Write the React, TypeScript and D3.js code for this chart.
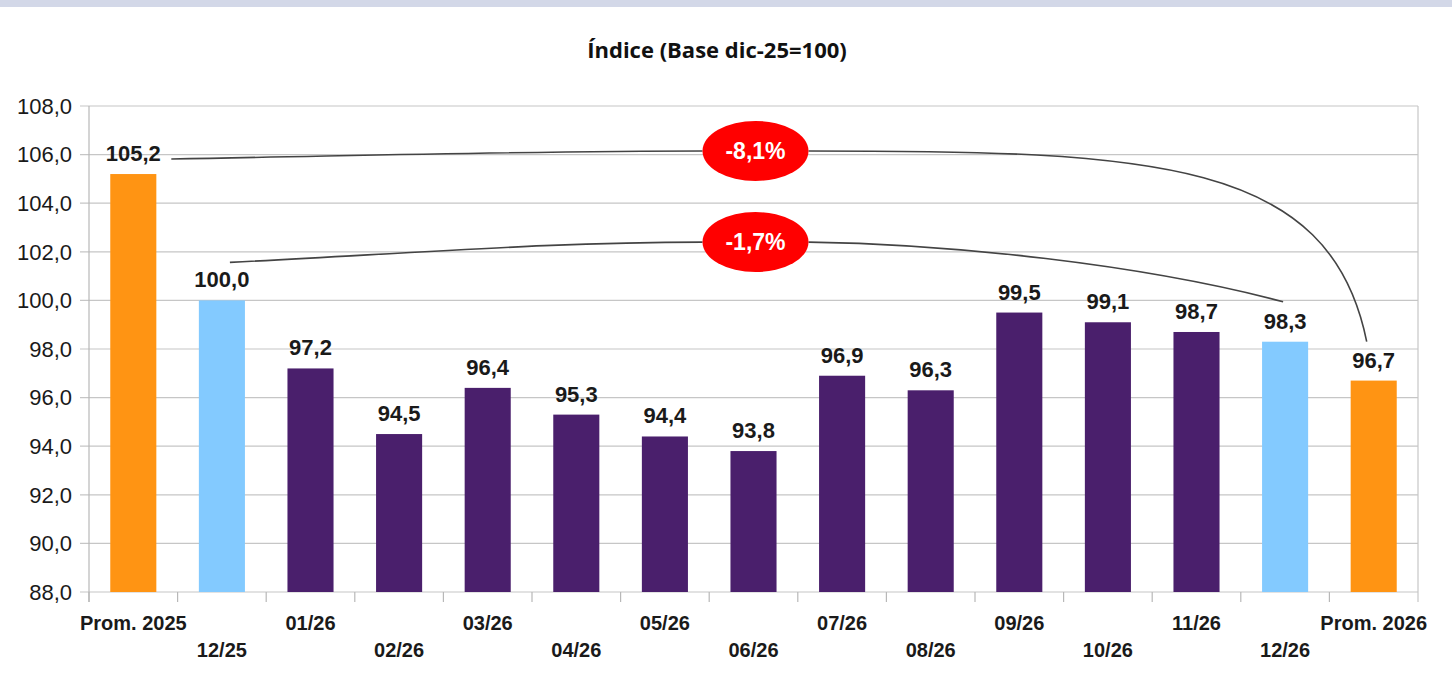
import React from 'react';
import * as d3 from 'd3';

const categories = ['Prom. 2025', '12/25', '01/26', '02/26', '03/26', '04/26', '05/26', '06/26', '07/26', '08/26', '09/26', '10/26', '11/26', '12/26', 'Prom. 2026'];
const values = [105.2, 100.0, 97.2, 94.5, 96.4, 95.3, 94.4, 93.8, 96.9, 96.3, 99.5, 99.1, 98.7, 98.3, 96.7];
const kinds = ['avg', 'base', 'm', 'm', 'm', 'm', 'm', 'm', 'm', 'm', 'm', 'm', 'm', 'base', 'avg'];
const yTicks = [88, 90, 92, 94, 96, 98, 100, 102, 104, 106, 108];
const changeLabels = ['-8,1%', '-1,7%'];
const changeFrom = [0, 1];
const changeTo = [14, 13];
const changeLevel = [106.15, 102.4];

const colors: Record<string, string> = { avg: '#ff9413', base: '#83caff', m: '#4a1f6c' };
const fmt = (v: number) => v.toFixed(1).replace('.', ',');

const App = () => {
  const width = 1452;
  const height = 683;
  const margin = { top: 106, right: 34, bottom: 91, left: 89 };
  const innerW = width - margin.left - margin.right;
  const innerH = height - margin.top - margin.bottom;

  const x = d3.scaleBand<string>().domain(categories).range([0, innerW]).paddingInner(0.48).paddingOuter(0.24);
  const y = d3.scaleLinear().domain([88, 108]).range([innerH, 0]);
  const step = x.step();
  const cx = (i: number) => (x(categories[i]) as number) + x.bandwidth() / 2;

  // connector geometry (pixels relative to the bars / labels)
  const ell = { rx: 53, ry: 30 };
  const ellX = innerW / 2 + 2;
  const starts = [
    [cx(changeFrom[0]) + 38, y(values[changeFrom[0]]) - 15],
    [cx(changeFrom[1]) + 8, y(values[changeFrom[1]]) - 38],
  ];
  const ends = [
    [cx(changeTo[0]) - 7, y(values[changeTo[0]]) - 39],
    [cx(changeTo[1]) - 2, y(values[changeTo[1]]) - 40],
  ];

  const font = "'Liberation Sans', Arial, sans-serif";

  return (
    <svg width={width} height={height} style={{ position: 'absolute', left: 0, top: 0, background: '#fff' }}>
      <rect x={0} y={0} width={width} height={7} fill="#d3d8e8" />
      <text x={717} y={58} textAnchor="middle" fontFamily="'Open Sans', sans-serif" fontWeight="bold" fontSize={22} fill="#111">
        Índice (Base dic-25=100)
      </text>
      <g transform={`translate(${margin.left},${margin.top})`} fontFamily={font}>
        {yTicks.map(t => (
          <g key={t}>
            <line x1={-9} x2={innerW} y1={y(t)} y2={y(t)} stroke="#c6c6c6" strokeWidth={1.2} />
            <text x={-17} y={y(t)} dy="0.35em" textAnchor="end" fontSize={22} fill="#1a1a1a">{fmt(t)}</text>
          </g>
        ))}
        <line x1={0} x2={0} y1={0} y2={innerH + 10} stroke="#b8b8b8" strokeWidth={1.2} />
        <line x1={innerW} x2={innerW} y1={0} y2={innerH + 10} stroke="#c6c6c6" strokeWidth={1.2} />
        {categories.map((c, i) => (
          <line key={'t' + c} x1={i * step} x2={i * step} y1={innerH} y2={innerH + 10} stroke="#b8b8b8" strokeWidth={1.2} />
        ))}
        {categories.map((c, i) => (
          <rect key={c} x={x(c)} y={y(values[i])} width={x.bandwidth()} height={innerH - y(values[i])} fill={colors[kinds[i]]} />
        ))}
        {categories.map((c, i) => (
          <text key={'v' + c} x={cx(i)} y={y(values[i]) - 13} textAnchor="middle" fontSize={22} fontWeight="bold" fill="#1a1a1a">
            {fmt(values[i])}
          </text>
        ))}
        {categories.map((c, i) => (
          <text key={'l' + c} x={cx(i)} y={innerH + (i % 2 === 0 ? 38 : 65)} textAnchor="middle" fontSize={20} fontWeight="bold" fill="#1a1a1a">
            {c}
          </text>
        ))}
        {changeLabels.map((lab, k) => {
          const ey = y(changeLevel[k]);
          const [sx, sy] = starts[k];
          const [tx, ty] = ends[k];
          const lx = ellX - ell.rx;
          const rx = ellX + ell.rx;
          const left = `M${sx},${sy} C${sx + (lx - sx) * 0.45},${sy - (sy - ey) * 0.55} ${lx - (lx - sx) * 0.3},${ey} ${lx},${ey}`;
          const right = k === 0
            ? `M${rx},${ey} C${rx + (tx - rx) * 0.62},${ey} ${tx - 37},${ey + 8} ${tx},${ty}`
            : `M${rx},${ey} C${rx + (tx - rx) * 0.3},${ey + 2} ${rx + (tx - rx) * 0.7},${ey + 22} ${tx},${ty}`;
          return (
            <g key={lab}>
              <path d={left} fill="none" stroke="#444" strokeWidth={1.6} />
              <path d={right} fill="none" stroke="#444" strokeWidth={1.6} />
              <ellipse cx={ellX} cy={ey} rx={ell.rx} ry={ell.ry} fill="#ff0000" />
              <text x={ellX} y={ey} dy="0.36em" textAnchor="middle" fontSize={23} fontWeight="bold" fill="#fff">{lab}</text>
            </g>
          );
        })}
      </g>
    </svg>
  );
};

export default App;
